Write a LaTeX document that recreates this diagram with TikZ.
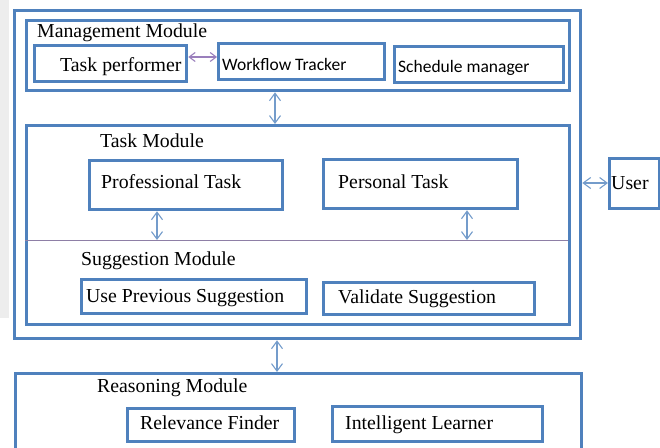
\documentclass[tikz,border=0pt]{standalone}
\usepackage{fontspec}
\setmainfont{Liberation Serif}
\newfontfamily\calib{Carlito}
\usetikzlibrary{arrows.meta}
\definecolor{boxblue}{HTML}{4F81BD}
\definecolor{arrblue}{HTML}{749CCB}
\definecolor{arrpurple}{HTML}{9A7FBC}
\definecolor{divline}{HTML}{8E7FA6}
\tikzset{
  box/.style={draw=boxblue, line width=3.3pt, rectangle, inner sep=0pt, anchor=north west, fill=white},
  lbl/.style={anchor=base west, inner sep=0pt, font=\fontsize{19.8}{22}\selectfont},
  clbl/.style={anchor=base west, inner sep=0pt, font=\calib\fontsize{17.5}{20}\selectfont},
  biarrow/.style={draw=arrblue, line width=1.1pt, {Straight Barb[length=7.5pt,width=11pt]}-{Straight Barb[length=7.5pt,width=11pt]}},
  piarrow/.style={draw=arrpurple, line width=1.1pt, {Straight Barb[length=6pt,width=9pt]}-{Straight Barb[length=6pt,width=9pt]}}
}
\begin{document}
\begin{tikzpicture}[x=1pt,y=-1pt]
\useasboundingbox (0,0) rectangle (660,447);
\fill[gray!14] (0,0) rectangle (9,318);
% outer and module boxes
\node[box, minimum width=566pt, minimum height=328pt] (outer) at (13,9) {};
\node[box, minimum width=543pt, minimum height=70pt] (mm) at (25,19) {};
\node[box, minimum width=152pt, minimum height=36pt] (tp) at (33,44) {};
\node[box, minimum width=166pt, minimum height=36pt] (wt) at (217,42) {};
\node[box, minimum width=169pt, minimum height=36pt] (sm) at (393,45) {};
\node[box, minimum width=543pt, minimum height=199pt] (tm) at (25,124) {};
\node[box, minimum width=193pt, minimum height=49pt] (pt) at (88,159) {};
\node[box, minimum width=194pt, minimum height=49pt] (pe) at (322,158) {};
\node[box, minimum width=225pt, minimum height=34pt] (up) at (80,278) {};
\node[box, minimum width=211pt, minimum height=32pt] (vs) at (322,281) {};
\node[box, minimum width=50pt, minimum height=50pt] (user) at (608,157) {};
\node[box, minimum width=566pt, minimum height=110pt] (rm) at (14,372) {};
\node[box, minimum width=167pt, minimum height=33pt] (rf) at (126,407) {};
\node[box, minimum width=210pt, minimum height=35pt] (il) at (331,405) {};
% divider line in task module
\coordinate (divL) at (25,240);
\coordinate (divR) at (568,240);
\draw[divline, line width=0.9pt] (divL) -- (divR);
% labels
\node[lbl] (tmm) at (37,37) {Management Module};
\node[lbl] (ttp) at (60,71) {Task performer};
\node[clbl] (twt) at (222,70) {Workflow Tracker};
\node[clbl] (tsm) at (398,72) {Schedule manager};
\node[lbl] (ttm) at (100,147) {Task Module};
\node[lbl] (tpt) at (101,188) {Professional Task};
\node[lbl] (tpe) at (338,188) {Personal Task};
\node[lbl] (tsg) at (81,265) {Suggestion Module};
\node[lbl] (tup) at (86,302) {Use Previous Suggestion};
\node[lbl] (tvs) at (338,303) {Validate Suggestion};
\node[lbl] (tus) at (611,189) {User};
\node[lbl] (trm) at (97,392) {Reasoning Module};
\node[lbl] (trf) at (140,429) {Relevance Finder};
\node[lbl] (til) at (345,429) {Intelligent Learner};
% connector reference coordinates
\coordinate (a1) at (0,57);
\coordinate (a2) at (275,0);
\coordinate (a3) at (157,0);
\coordinate (a4) at (467,0);
\coordinate (a5) at (0,183);
\coordinate (a6) at (277,0);
% connectors
\draw[piarrow] (tp.east |- a1) -- (wt.west |- a1);
\draw[biarrow] (mm.south -| a2) -- (tm.north -| a2);
\draw[biarrow] (pt.south -| a3) -- (divL -| a3);
\draw[biarrow] (pe.south -| a4) -- (divL -| a4);
\draw[biarrow] (outer.east |- a5) -- (user.west |- a5);
\draw[biarrow] (outer.south -| a6) -- (rm.north -| a6);
\end{tikzpicture}
\end{document}
